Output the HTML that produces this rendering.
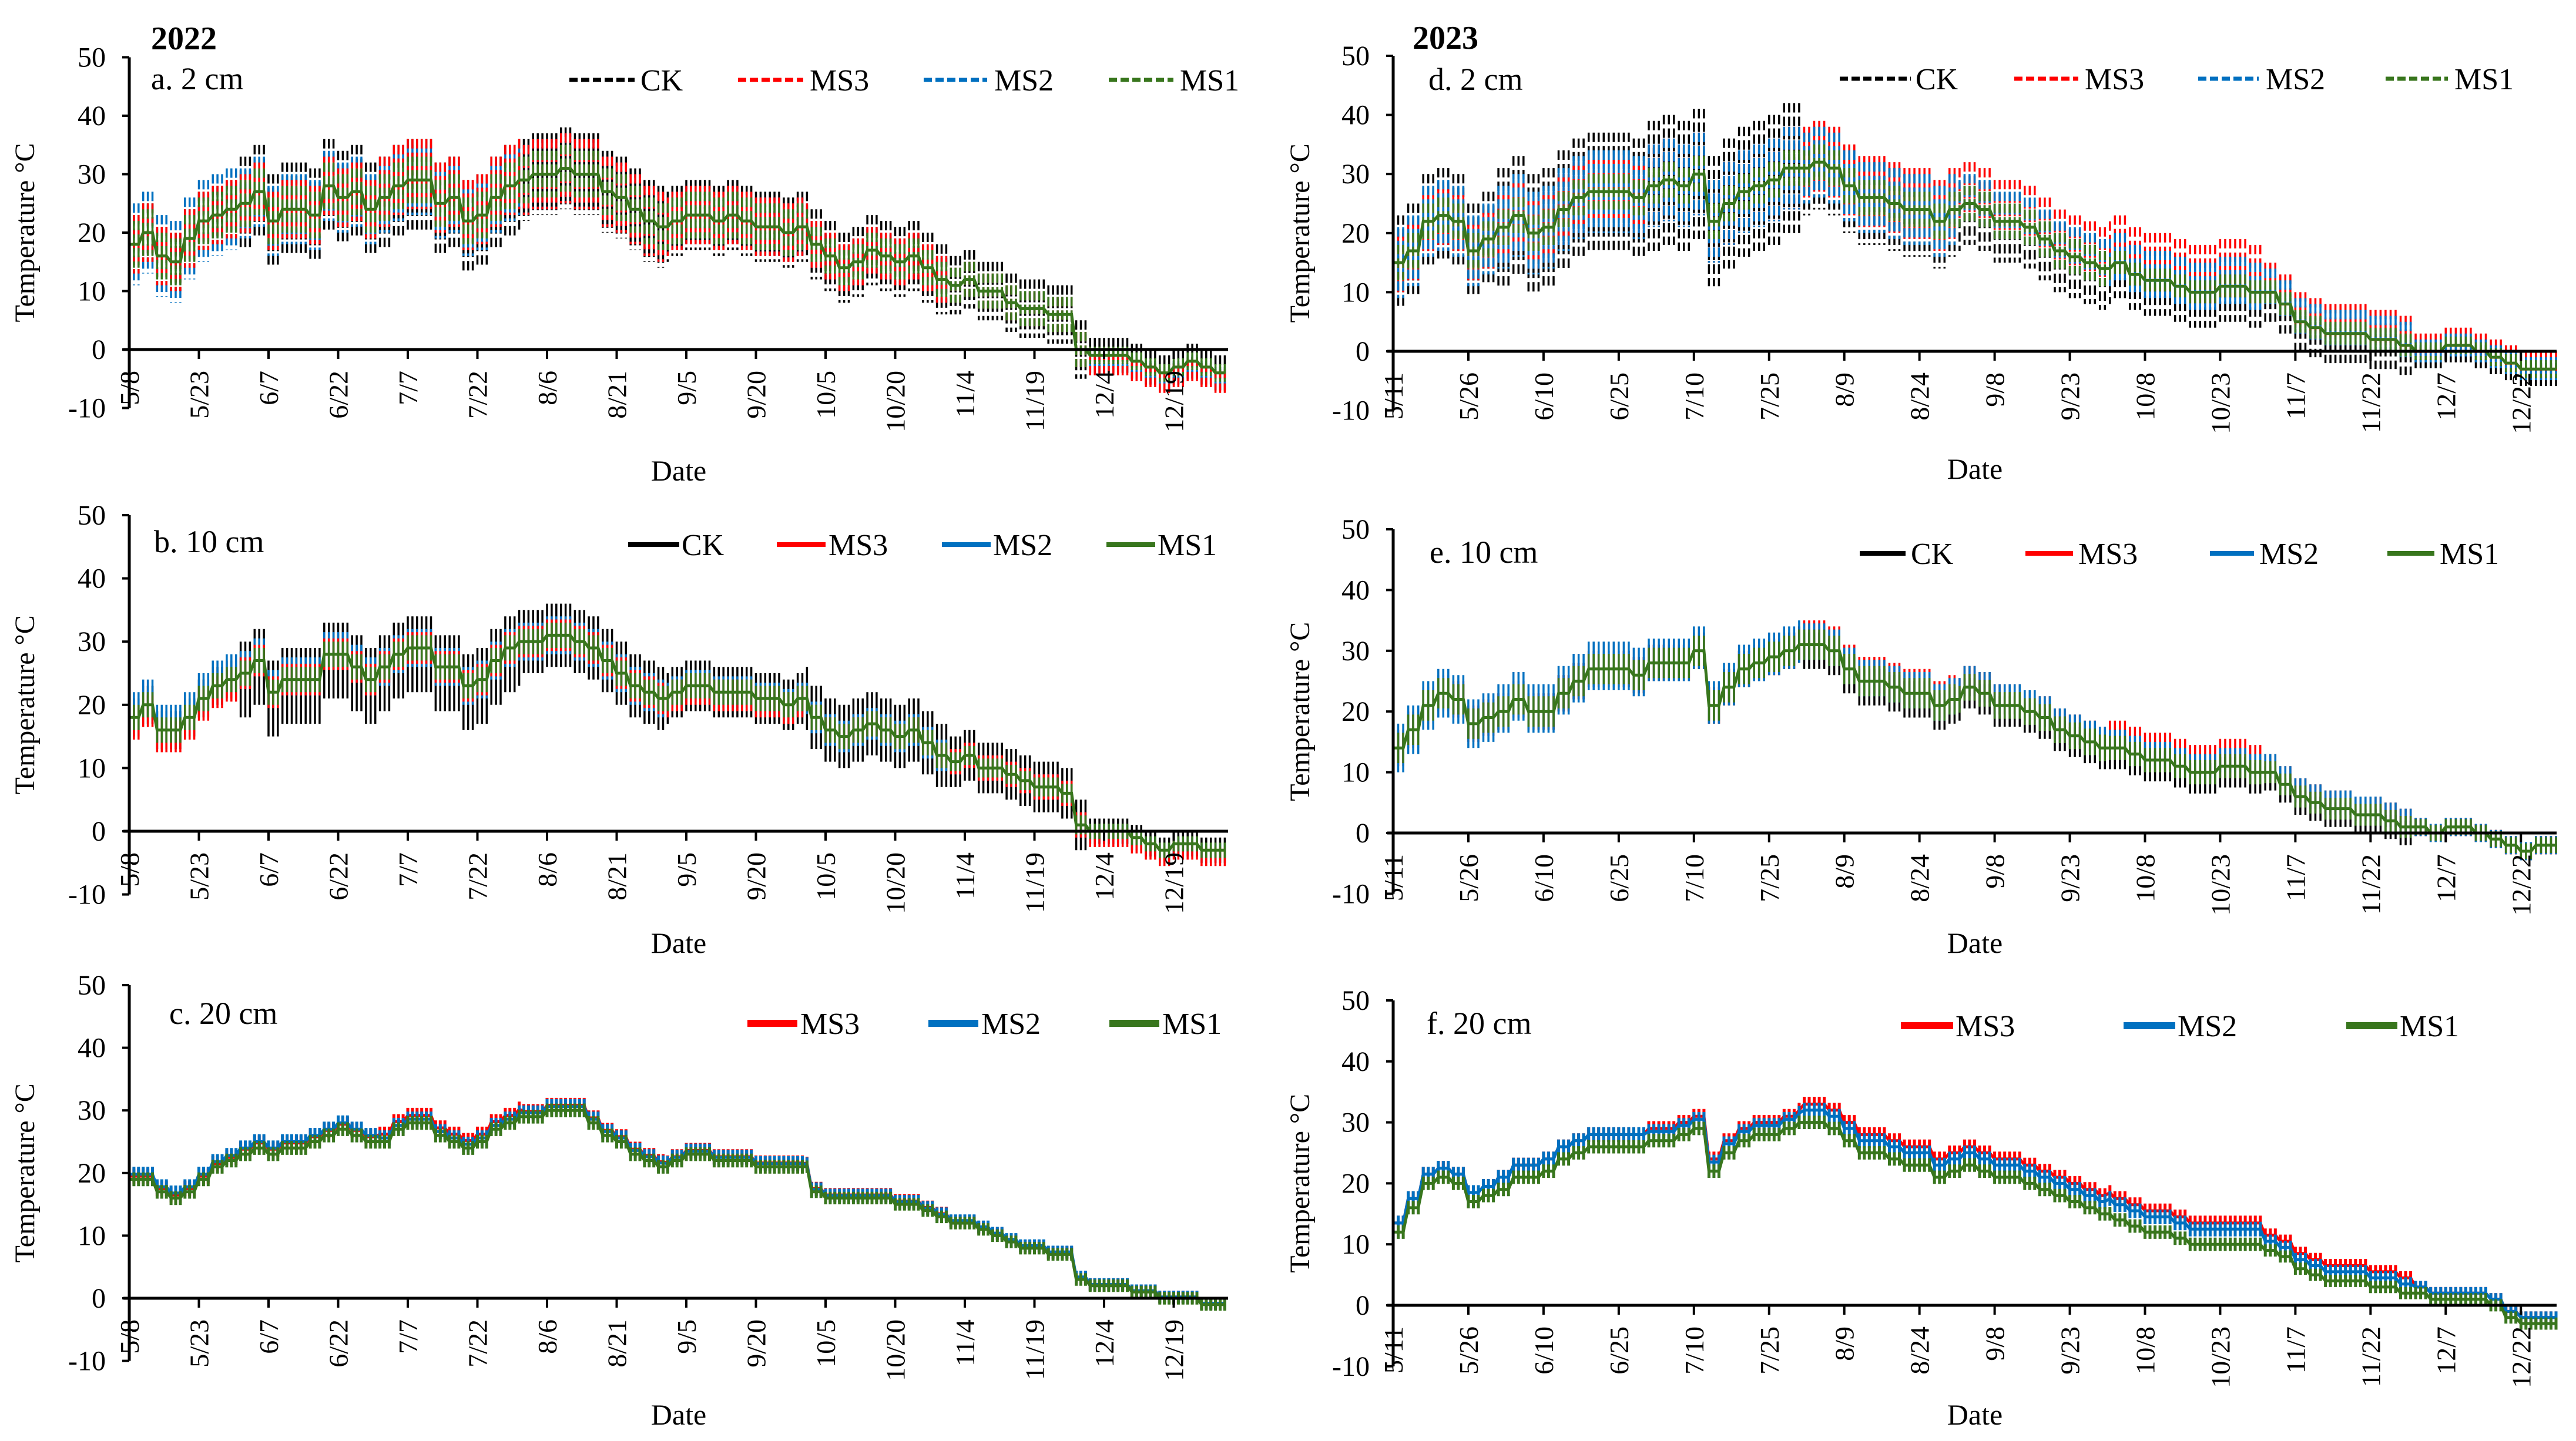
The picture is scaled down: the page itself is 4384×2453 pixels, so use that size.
<!DOCTYPE html>
<html><head><meta charset="utf-8"><style>
html,body{margin:0;padding:0;background:#fff}
svg{display:block}
text{font-family:"Liberation Serif",serif;fill:#000}
</style></head><body>
<svg id="fig" width="4384" height="2453" viewBox="0 0 4384 2453" xmlns="http://www.w3.org/2000/svg"></svg>
<script>
// ---------- data (3-day samples of MS1 mean; monthly amplitude / offset per series May..Dec) ----------
const seriesNames = ["CK","MS3","MS2","MS1"];
const yTicks = [50,40,30,20,10,0,-10];
const ticks2022 = ["5/8","5/23","6/7","6/22","7/7","7/22","8/6","8/21","9/5","9/20","10/5","10/20","11/4","11/19","12/4","12/19"];
const ticks2023 = ["5/11","5/26","6/10","6/25","7/10","7/25","8/9","8/24","9/8","9/23","10/8","10/23","11/7","11/22","12/7","12/22"];

const meanA = [18,20,16,15,19,22,23,24,25,27,22,24,24,23,28,26,27,24,26,28,29,29,25,26,22,23,26,28,29,30,30,31,30,30,27,26,24,22,21,22,23,23,22,23,22,21,21,20,21,18,16,14,15,17,16,15,16,14,12,11,12,10,10,8,7,7,6,6,0,-1,-1,-1,-2,-3,-4,-3,-2,-3,-4,-4];
const meanB = [18,20,16,16,18,21,23,24,25,27,22,24,24,24,28,28,26,24,26,28,29,29,26,26,23,24,27,29,30,30,31,31,30,29,27,25,23,22,21,22,23,23,22,22,22,21,21,20,21,18,16,15,16,17,16,15,16,14,12,11,12,10,10,9,8,7,7,6,1,0,0,0,-1,-2,-3,-2,-2,-3,-3,-3];
const meanC = [19,19,17,16,17,19,21,22,23,24,23,24,24,25,26,27,26,25,25,27,28,28,26,25,24,25,27,28,29,29,30,30,30,28,26,25,23,22,21,22,23,23,22,22,22,21,21,21,21,17,16,16,16,16,16,15,15,14,13,12,12,11,10,9,8,8,7,7,3,2,2,2,1,1,0,0,0,-1,-1,-1];
const meanD = [15,17,22,23,22,17,19,21,23,20,21,24,26,27,27,27,26,28,29,28,30,22,25,27,28,29,31,31,32,31,28,26,26,25,24,24,22,24,25,24,22,22,21,19,17,16,15,14,15,13,12,12,11,10,10,11,11,10,10,8,5,4,3,3,3,2,2,1,0,0,1,1,0,-1,-2,-3,-3,-3];
const meanE = [14,17,21,23,22,18,19,20,22,20,20,23,25,27,27,27,26,28,28,28,30,21,24,27,28,29,30,31,31,30,27,25,25,24,23,23,21,22,24,23,21,21,20,19,17,16,15,14,14,13,12,12,11,10,10,11,11,10,10,8,6,5,4,4,3,3,2,1,1,0,1,1,0,-1,-2,-3,-2,-2];
const meanF = [12,16,20,21,20,17,18,19,21,21,22,24,25,26,26,26,26,27,27,28,29,22,25,27,28,28,29,30,30,29,27,25,25,24,23,23,21,22,23,22,21,21,20,19,18,17,16,15,14,13,12,12,11,10,10,10,10,10,9,8,6,5,4,4,4,3,3,2,2,1,1,1,1,0,-2,-3,-3,-3];

const ampA = {CK:[5,8,8,7,6,6,5,3], MS3:[5,5,6,6,5,4,3,2], MS2:[7,6,6,6,5,4,3,2], MS1:[4,4,4,4,4,3,3,1.5]};
const offA = {CK:[0,0,-1,0,0,0,0,0], MS3:[0,0,1,0,0,0,0,-1.5], MS2:[0,0,0,0,0,0,0,-1], MS1:[0,0,0,0,0,0,0,0]};
const ampB = {CK:[3,6,6,5,4,5,4,2], MS3:[2.5,2.5,2.5,2.5,2.5,2,2,1.5], MS2:[3,3,3,3,2.5,2.5,2,1.5], MS1:[2,2,2,2,2,2,1.5,1.2]};
const offB = {CK:[0,-1,-1,0,0,0,0,0], MS3:[-1,0,0,0,-0.5,0,0,-1], MS2:[1,0.5,0,0,0,0,0,-0.5], MS1:[0,0,0,0,0,0,0,0]};
const ampC = {MS3:[1.2,1.2,1.2,1.2,1.2,1.1,1,1], MS2:[1.2,1.2,1.2,1.2,1.2,1.1,1,1], MS1:[1.1,1.1,1.1,1.1,1.1,1,1,1]};
const offC = {MS3:[0.5,0.8,1.2,0.8,0.6,0.5,0.3,0.2], MS2:[0.8,1,0.6,0.6,0.5,0.4,0.4,0.2], MS1:[0,0,0,0,0,0,0,0]};
const ampD = {CK:[8,10,11,7,5,4,3,2], MS3:[5,6,7,6,5,5,3,2], MS2:[6,7,7,6,4,4,3,2], MS1:[3,3,3,3,3,2,2,1.5]};
const offD = {CK:[0,0,0,-1,-2,-2,-2,-1], MS3:[0,0,0,1,2,3,2,1], MS2:[0,0,0,0,1,1,1,0], MS1:[0,0,0,0,0,0,0,0]};
const ampE = {CK:[2.5,3,3,3,2.5,2.5,2,1.5], MS3:[3,3,3,3,2.5,2.5,2,1.5], MS2:[4,4,3.5,3,2.5,2,2,1.5], MS1:[2.5,2.5,2.5,2.5,2.2,2,1.8,1.3]};
const offE = {CK:[0,0,0,-1,-1,-1,-1,0], MS3:[0,0,0,1,1,2,1,0], MS2:[0,0.5,0.5,0.5,1,1,1,0], MS1:[0,0,0,0,0,0,0,0]};
const ampF = {MS3:[1.2,1.2,1.2,1.2,1.2,1.2,1.1,1], MS2:[1.2,1.2,1.2,1.2,1.2,1.2,1.1,1], MS1:[1.1,1.1,1.1,1.1,1.1,1.1,1,1]};
const offF = {MS3:[1.5,2,2,3,3,3.5,2.5,1], MS2:[1.5,2,1.5,2,2,2.5,1.5,1], MS1:[0,0,0,0,0,0,0,0]};

const colors = {CK:"#000000", MS3:"#ff0000", MS2:"#0070c0", MS1:"#38761d"};
const NS = "http://www.w3.org/2000/svg";
const svg = document.getElementById("fig");

function el(tag, attrs, parent){
  const e = document.createElementNS(NS, tag);
  for (const k in attrs) e.setAttribute(k, attrs[k]);
  (parent||svg).appendChild(e);
  return e;
}
function txt(str, attrs, parent){ const t = el("text", attrs, parent); t.textContent = str; return t; }

function panel(cfg){
  const g = el("g", {});
  
  
  const x = d => cfg.x0 + d * cfg.pxDay;
  const y = v => cfg.y0 - v * cfg.per10 / 10;
  const start = new Date(cfg.year, 4, cfg.startDay);
  const monthOf = d => { const dt = new Date(start.getTime() + d*86400000); return Math.min(7, Math.max(0, dt.getMonth() - 4)); };

  cfg.order.forEach(s => {
    const sg = el("g", {}, g);
    
    
    let dBars = "", dLine = "";
    cfg.mean.forEach((m, i) => {
      for (let k = 0; k < 3; k++) {
        const d = i*3 + k;
        if (x(d) > cfg.x1) continue;
        const mo = monthOf(d);
        const c = m + cfg.off[s][mo];
        const a = cfg.amp[s][mo];
        dBars += `M${x(d).toFixed(1)},${y(c+a).toFixed(1)}V${y(c-a).toFixed(1)}`;
        dLine += (dLine ? "L" : "M") + `${x(d).toFixed(1)},${y(c).toFixed(1)}`;
      }
    });
    const bars = el("path", {d:dBars, stroke:colors[s], "stroke-width":cfg.barW, fill:"none"}, sg);
    if (cfg.dashed) bars.setAttribute("stroke-dasharray", "16 7");
    
    
    if (s === "MS1" || cfg.deep) {
      const ln = el("path", {d:dLine, stroke:colors[s], "stroke-width":5, fill:"none"}, sg);
      
      
    }
  });

  const yAxis = el("line", {x1:cfg.x0, x2:cfg.x0, y1:y(50), y2:y(-10), stroke:"#000", "stroke-width":5}, g);
  
  
  const xAxis = el("line", {x1:cfg.x0-10, x2:cfg.x1, y1:y(0), y2:y(0), stroke:"#000", "stroke-width":5}, g);
  
  
  yTicks.forEach(v => {
    el("line", {x1:cfg.x0-12, x2:cfg.x0, y1:y(v), y2:y(v), stroke:"#000", "stroke-width":4}, g);
    const t = txt(String(v), {x:cfg.x0-40, y:y(v)+16, "text-anchor":"end", "font-size":48}, g);
    
    
  });
  cfg.ticks.forEach((lab, i) => {
    const tx = x(i*15);
    el("line", {x1:tx, x2:tx, y1:y(0), y2:y(0)+16, stroke:"#000", "stroke-width":4}, g);
    const t = txt(lab, {x:0, y:0, "text-anchor":"end", "font-size":46,
      transform:`translate(${tx+16},${y(0)+36}) rotate(-90)`}, g);
    
    
  });
  const yl = txt("Temperature °C", {x:0, y:0, "text-anchor":"middle", "font-size":48,
    transform:`translate(${cfg.ylx},${(y(50)+y(-10))/2}) rotate(-90)`}, g);
  
  
  const xl = txt("Date", {x:(cfg.x0+cfg.x1)/2, y:cfg.dateY, "text-anchor":"middle", "font-size":50}, g);
  
  
  const pl = txt(cfg.label, {x:cfg.labX, y:cfg.labY, "font-size":54}, g);
  
  
  if (cfg.year_label) {
    const yt = txt(cfg.year_label, {x:cfg.yearX, y:cfg.yearY, "font-size":56, "font-weight":"bold"}, g);
    
    
  }
  cfg.legend.forEach(L => {
    const lg = el("g", {}, g);
    
    
    const ln = el("line", {x1:L.a, x2:L.b, y1:cfg.legY, y2:cfg.legY, stroke:colors[L.s], "stroke-width":cfg.deep?12:(cfg.dashed?7:8)}, lg);
    if (cfg.dashed) ln.setAttribute("stroke-dasharray", "14 6");
    txt(L.s, {x:L.t, y:cfg.legY+18, "font-size":52}, lg);
  });
}

const L2022 = {x0:220, x1:2090, pxDay:7.9, year:2022, startDay:8, ticks:ticks2022, ylx:58};
const L2023 = {x0:2371, x1:4351, pxDay:8.53, year:2023, startDay:11, ticks:ticks2023, ylx:2228};

panel(Object.assign({}, L2022, {name:"panel-a-2cm-2022", y0:595, per10:99.5, mean:meanA, amp:ampA, off:offA,
  order:["CK","MS2","MS3","MS1"], barW:3.5, dashed:true, dateY:818, label:"a. 2 cm", labX:257, labY:152,
  year_label:"2022", yearX:257, yearY:84, legY:136,
  legend:[{s:"CK",a:969,b:1080,t:1090},{s:"MS3",a:1256,b:1367,t:1378},{s:"MS2",a:1572,b:1680,t:1692},{s:"MS1",a:1887,b:1997,t:2008}]}));
panel(Object.assign({}, L2022, {name:"panel-b-10cm-2022", y0:1415, per10:107.6, mean:meanB, amp:ampB, off:offB,
  order:["CK","MS2","MS3","MS1"], barW:3.5, dateY:1622, label:"b. 10 cm", labX:262, labY:940, legY:927,
  legend:[{s:"CK",a:1069,b:1156,t:1160},{s:"MS3",a:1322,b:1405,t:1410},{s:"MS2",a:1603,b:1686,t:1690},{s:"MS1",a:1883,b:1966,t:1970}]}));
panel(Object.assign({}, L2022, {name:"panel-c-20cm-2022", y0:2210, per10:106.6, mean:meanC, amp:ampC, off:offC,
  order:["MS3","MS2","MS1"], barW:5, deep:true, dateY:2425, label:"c. 20 cm", labX:288, labY:1743, legY:1742,
  legend:[{s:"MS3",a:1272,b:1357,t:1362},{s:"MS2",a:1580,b:1665,t:1670},{s:"MS1",a:1888,b:1973,t:1978}]}));
panel(Object.assign({}, L2023, {name:"panel-d-2cm-2023", y0:598, per10:100.6, mean:meanD, amp:ampD, off:offD,
  order:["CK","MS3","MS2","MS1"], barW:3.5, dashed:true, dateY:815, label:"d. 2 cm", labX:2431, labY:153,
  year_label:"2023", yearX:2404, yearY:83, legY:134,
  legend:[{s:"CK",a:3131,b:3252,t:3260},{s:"MS3",a:3428,b:3537,t:3548},{s:"MS2",a:3741,b:3844,t:3856},{s:"MS1",a:4060,b:4166,t:4177}]}));
panel(Object.assign({}, L2023, {name:"panel-e-10cm-2023", y0:1418, per10:103.4, mean:meanE, amp:ampE, off:offE,
  order:["CK","MS3","MS2","MS1"], barW:3.5, dateY:1622, label:"e. 10 cm", labX:2433, labY:958, legY:942,
  legend:[{s:"CK",a:3165,b:3243,t:3252},{s:"MS3",a:3447,b:3528,t:3537},{s:"MS2",a:3761,b:3836,t:3845},{s:"MS1",a:4063,b:4143,t:4152}]}));
panel(Object.assign({}, L2023, {name:"panel-f-20cm-2023", y0:2222, per10:103.8, mean:meanF, amp:ampF, off:offF,
  order:["MS3","MS2","MS1"], barW:5, deep:true, dateY:2425, label:"f. 20 cm", labX:2428, labY:1760, legY:1746,
  legend:[{s:"MS3",a:3235,b:3324,t:3328},{s:"MS2",a:3614,b:3702,t:3706},{s:"MS1",a:3993,b:4080,t:4084}]}));
</script>
</body></html>
